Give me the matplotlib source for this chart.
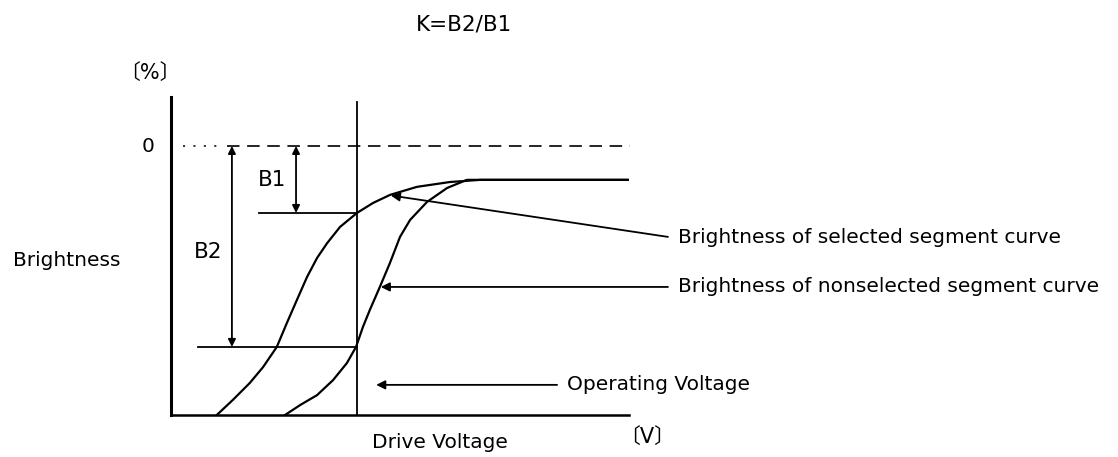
import matplotlib
matplotlib.use('Agg')
import matplotlib.pyplot as plt

plt.rcParams['font.family'] = ['DejaVu Sans', 'Noto Sans CJK JP']
plt.rcParams['lines.scale_dashes'] = False

# drive voltage (arbitrary units) and brightness (% below the 0 line)
sel_v = [1.00, 1.35, 1.72, 2.01, 2.31, 2.53, 2.75, 2.97, 3.19, 3.41, 3.69, 4.06,
         4.41, 4.78, 5.37, 6.09, 6.75, 10.0]
sel_b = [-100, -94.4, -88.1, -82.2, -74.7, -65.8, -57.2, -48.7, -41.6, -36.1, -30.1, -24.9,
         -21.2, -18.2, -15.2, -13.4, -12.6, -12.6]

non_v = [2.49, 2.82, 3.19, 3.54, 3.84, 4.04, 4.19, 4.34, 4.56, 4.78, 5.00, 5.22,
         5.59, 6.03, 6.46, 10.0]
non_b = [-100, -96.3, -92.6, -87.0, -80.7, -74.7, -67.3, -61.0, -52.4, -43.5, -33.8, -27.5,
         -20.8, -15.6, -12.6, -12.6]

op_v = 4.06
b1_level = -24.9
b2_level = -74.7
b1_x = 2.73
b2_x = 1.33

W, H = 1118, 457
fig = plt.figure(figsize=(W / 100, H / 100), dpi=100)
ax = fig.add_axes([171 / W, 1 - 415 / H, (629 - 171) / W, (415 - 97) / H])
ax.set_xlim(0, 10)
ax.set_ylim(-100, 18.2)
ax.set_xticks([])
ax.set_yticks([])
for s in ['top', 'right']:
    ax.spines[s].set_visible(False)
ax.spines['left'].set_linewidth(2.2)
ax.spines['bottom'].set_linewidth(1.8)

k = 'black'
ax.plot(sel_v, sel_b, color=k, lw=1.6, solid_joinstyle='round')
ax.plot(non_v, non_b, color=k, lw=1.6, solid_joinstyle='round')

# zero line
ax.plot([0.26, 1.0], [0, 0], color=k, lw=1.1, ls=(0, (1.5, 6)), clip_on=False)
ax.plot([1.22, 10.02], [0, 0], color=k, lw=1.2, ls=(0, (9, 5.5)), clip_on=False)

# operating voltage line
ax.plot([op_v, op_v], [-100, 16.4], color=k, lw=1.3)

# B1 / B2 levels
ax.plot([1.92, op_v], [b1_level, b1_level], color=k, lw=1.3)
ax.plot([0.59, op_v], [b2_level, b2_level], color=k, lw=1.3)
dbl = dict(arrowstyle='<|-|>', mutation_scale=11, lw=1.3, color=k, shrinkA=0, shrinkB=0)
ax.annotate('', xy=(b1_x, 0), xytext=(b1_x, b1_level), arrowprops=dbl)
ax.annotate('', xy=(b2_x, 0), xytext=(b2_x, b2_level), arrowprops=dbl)

one = dict(arrowstyle='-|>', mutation_scale=13, lw=1.3, color=k, shrinkA=0, shrinkB=0)
ax.annotate('', xy=(4.80, -18.4), xytext=(10.85, -33.8), arrowprops=one, annotation_clip=False)
ax.annotate('', xy=(4.58, -52.4), xytext=(10.85, -52.4), arrowprops=one, annotation_clip=False)
ax.annotate('', xy=(4.48, -88.8), xytext=(8.43, -88.8), arrowprops=one, annotation_clip=False)


def t(x, y, s, **kw):
    fig.text(x / W, 1 - y / H, s, fontsize=kw.pop('fs', 14.5), va='center', **kw)


t(464, 25, 'K=B2/B1', ha='center', fs=15.5)
t(150, 73, '〔%〕', ha='center', fs=15)
t(148, 146, '0', ha='center')
t(13, 261, 'Brightness', ha='left')
t(272, 180, 'B1', ha='center', fs=15.5)
t(208, 252, 'B2', ha='center', fs=15.5)
t(678, 237, 'Brightness of selected segment curve', ha='left')
t(678, 287, 'Brightness of nonselected segment curve', ha='left')
t(567, 384, 'Operating Voltage', ha='left')
t(440, 442, 'Drive Voltage', ha='center')
t(647, 437, '〔V〕', ha='center', fs=15)

fig.savefig('out.png', dpi=100)
